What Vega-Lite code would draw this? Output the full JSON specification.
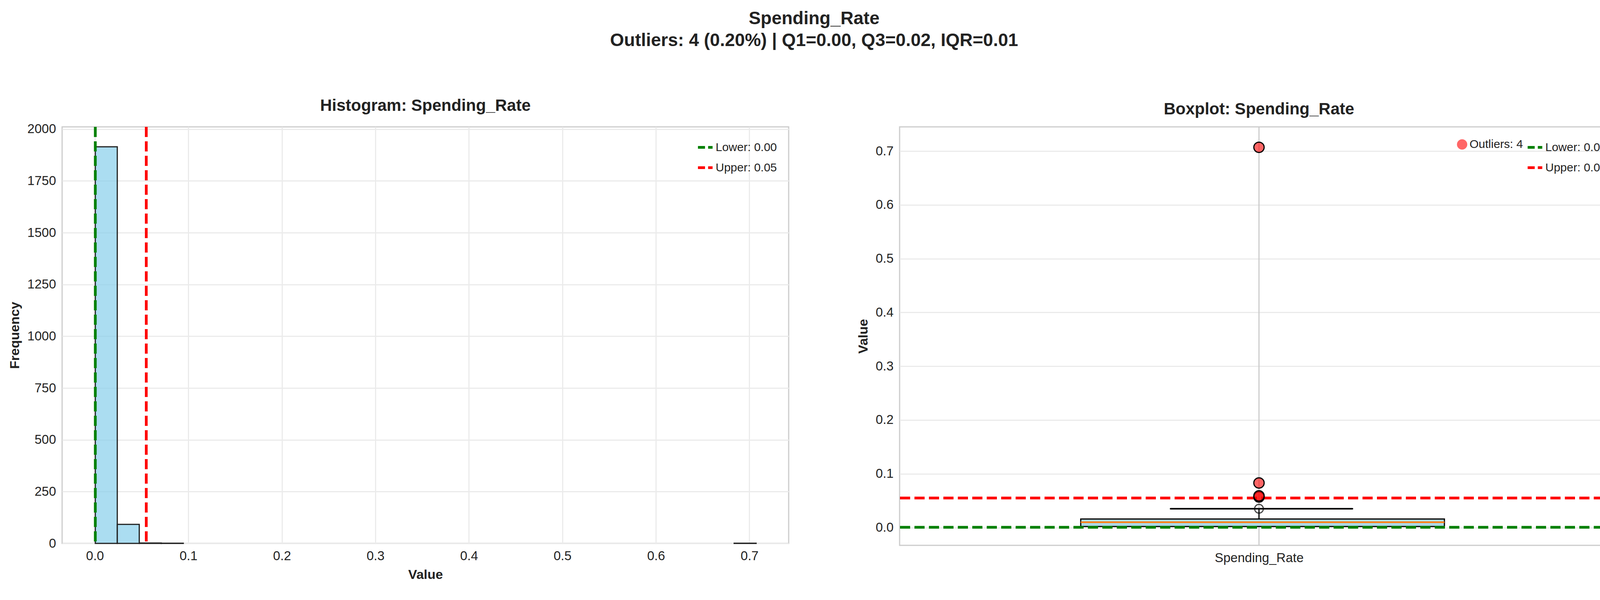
{
  "$schema": "https://vega.github.io/schema/vega-lite/v6.json",
  "background": "white",
  "padding": {"left": 20, "top": 25, "right": 20, "bottom": 10},
  "title": {
    "text": ["Spending_Rate", "Outliers: 4 (0.20%) | Q1=0.00, Q3=0.02, IQR=0.01"],
    "fontSize": 46, "font": "Liberation Sans", "fontWeight": "bold", "color": "#222",
    "anchor": "middle", "offset": 120, "lineHeight": 56
  },
  "datasets": {
    "hist": [
      {"x0": 0.0005, "x1": 0.0240, "count": 1915},
      {"x0": 0.0240, "x1": 0.0475, "count": 92},
      {"x0": 0.0475, "x1": 0.0711, "count": 2},
      {"x0": 0.0711, "x1": 0.0946, "count": 1},
      {"x0": 0.6837, "x1": 0.7072, "count": 1}
    ],
    "bounds": [
      {"label": "Lower: 0.00", "v": 0.0005},
      {"label": "Upper: 0.05", "v": 0.055}
    ],
    "box": [{"c": 0.5, "bl": 0.252, "br": 0.758, "cl": 0.377, "cr": 0.63, "q1": 0.002, "q3": 0.016, "med": 0.010, "wlo": 0.0005, "whi": 0.035}],
    "outliers": [
      {"label": "Outliers: 4", "c": 0.5, "v": 0.057},
      {"label": "Outliers: 4", "c": 0.5, "v": 0.059},
      {"label": "Outliers: 4", "c": 0.5, "v": 0.083},
      {"label": "Outliers: 4", "c": 0.5, "v": 0.707}
    ]
  },
  "hconcat": [
    {
      "width": 1860, "height": 1067,
      "title": {"text": "Histogram: Spending_Rate"},
      "layer": [
        {
          "data": {"name": "hist"},
          "mark": {"type": "bar", "fill": "#87ceeb", "fillOpacity": 0.7, "stroke": "#222", "strokeWidth": 3},
          "encoding": {
            "x": {"field": "x0", "type": "quantitative", "scale": {"domain": [-0.035, 0.742], "nice": false, "zero": false},
              "axis": {"title": "Value", "values": [0, 0.1, 0.2, 0.3, 0.4, 0.5, 0.6, 0.7], "format": ".1f"}},
            "x2": {"field": "x1"},
            "y": {"field": "count", "type": "quantitative", "scale": {"domain": [0, 2011], "nice": false},
              "axis": {"title": "Frequency", "values": [0, 250, 500, 750, 1000, 1250, 1500, 1750, 2000], "format": "d"}},
            "y2": {"datum": 0}
          }
        },
        {
          "data": {"name": "bounds"},
          "mark": {"type": "rule", "strokeWidth": 7, "strokeDash": [26, 11]},
          "encoding": {
            "x": {"field": "v", "type": "quantitative"},
            "color": {"field": "label", "type": "nominal",
              "scale": {"domain": ["Lower: 0.00", "Upper: 0.05"], "range": ["#008000", "#ff0000"]},
              "legend": {"title": null, "orient": "top-right", "symbolType": "stroke", "symbolDash": [18, 8], "symbolStrokeWidth": 7, "symbolSize": 1400}}
          }
        }
      ]
    },
    {
      "width": 1840, "height": 1072,
      "title": {"text": "Boxplot: Spending_Rate"},
      "encoding": {
        "x": {"type": "quantitative", "scale": {"domain": [0, 1], "nice": false}},
        "y": {"type": "quantitative", "scale": {"domain": [-0.033, 0.745], "nice": false}}
      },
      "layer": [
        {
          "data": {"name": "box"},
          "mark": {"type": "rule", "color": "#ccc", "strokeWidth": 3},
          "encoding": {
            "x": {"field": "c", "type": "quantitative",
              "axis": {"title": null, "values": [0.5], "labelExpr": "'Spending_Rate'", "grid": false, "labelLimit": 0}},
            "y": {"datum": -0.033, "type": "quantitative",
              "axis": {"title": "Value", "values": [0, 0.1, 0.2, 0.3, 0.4, 0.5, 0.6, 0.7], "format": ".1f"}},
            "y2": {"datum": 0.745}
          }
        },
        {
          "data": {"name": "box"},
          "mark": {"type": "rect", "fill": "#add8e6", "stroke": "#000", "strokeWidth": 3},
          "encoding": {
            "x": {"field": "bl", "type": "quantitative"}, "x2": {"field": "br"},
            "y": {"field": "q1", "type": "quantitative"}, "y2": {"field": "q3"}
          }
        },
        {
          "data": {"name": "box"},
          "mark": {"type": "rule", "color": "#ff7f0e", "strokeWidth": 4},
          "encoding": {
            "x": {"field": "bl", "type": "quantitative"}, "x2": {"field": "br"},
            "y": {"field": "med", "type": "quantitative"}
          }
        },
        {
          "data": {"name": "box"},
          "mark": {"type": "rule", "color": "#000", "strokeWidth": 3},
          "encoding": {
            "x": {"field": "c", "type": "quantitative"},
            "y": {"field": "q3", "type": "quantitative"}, "y2": {"field": "whi"}
          }
        },
        {
          "data": {"name": "box"},
          "mark": {"type": "rule", "color": "#000", "strokeWidth": 4, "strokeCap": "round"},
          "encoding": {
            "x": {"field": "cl", "type": "quantitative"}, "x2": {"field": "cr"},
            "y": {"field": "whi", "type": "quantitative"}
          }
        },
        {
          "data": {"name": "box"},
          "mark": {"type": "point", "filled": false, "stroke": "#000", "strokeWidth": 3, "size": 500},
          "encoding": {
            "x": {"field": "c", "type": "quantitative"},
            "y": {"field": "whi", "type": "quantitative"}
          }
        },
        {
          "data": {"name": "bounds"},
          "mark": {"type": "rule", "strokeWidth": 7, "strokeDash": [26, 11]},
          "encoding": {
            "y": {"field": "v", "type": "quantitative"},
            "color": {"field": "label", "type": "nominal",
              "scale": {"domain": ["Lower: 0.00", "Upper: 0.05"], "range": ["#008000", "#ff0000"]},
              "legend": {"title": null, "orient": "top-right", "symbolType": "stroke", "symbolDash": [18, 8], "symbolStrokeWidth": 7, "symbolSize": 1400}}
          }
        },
        {
          "data": {"name": "outliers"},
          "mark": {"type": "circle", "size": 700, "opacity": 1, "fillOpacity": 0.6, "stroke": "#000", "strokeWidth": 3},
          "encoding": {
            "x": {"field": "c", "type": "quantitative"},
            "y": {"field": "v", "type": "quantitative"},
            "fill": {"field": "label", "type": "nominal",
              "scale": {"domain": ["Outliers: 4"], "range": ["#ff0000"]},
              "legend": {"title": null, "orient": "top-right", "symbolType": "circle", "symbolSize": 700, "symbolOpacity": 0.6, "symbolStrokeWidth": 0}}
          }
        }
      ],
      "resolve": {"scale": {"color": "independent"}}
    }
  ],
  "spacing": 170,
  "resolve": {"scale": {"color": "independent", "fill": "independent"}, "legend": {"color": "independent", "fill": "independent"}},
  "config": {
    "font": "Liberation Sans",
    "view": {"stroke": "#cccccc", "strokeWidth": 3},
    "title": {"fontSize": 42, "fontWeight": "bold", "color": "#222", "offset": 22},
    "axis": {
      "domain": false, "ticks": false, "grid": true, "gridColor": "#ebebeb", "gridWidth": 3,
      "labelFontSize": 33, "labelColor": "#222", "labelPadding": 16,
      "titleFontSize": 34, "titleFontWeight": "bold", "titleColor": "#222", "titlePadding": 14
    },
    "legend": {"labelFontSize": 30, "labelColor": "#222", "rowPadding": 14, "offset": 30, "symbolOffset": 0}
  }
}
